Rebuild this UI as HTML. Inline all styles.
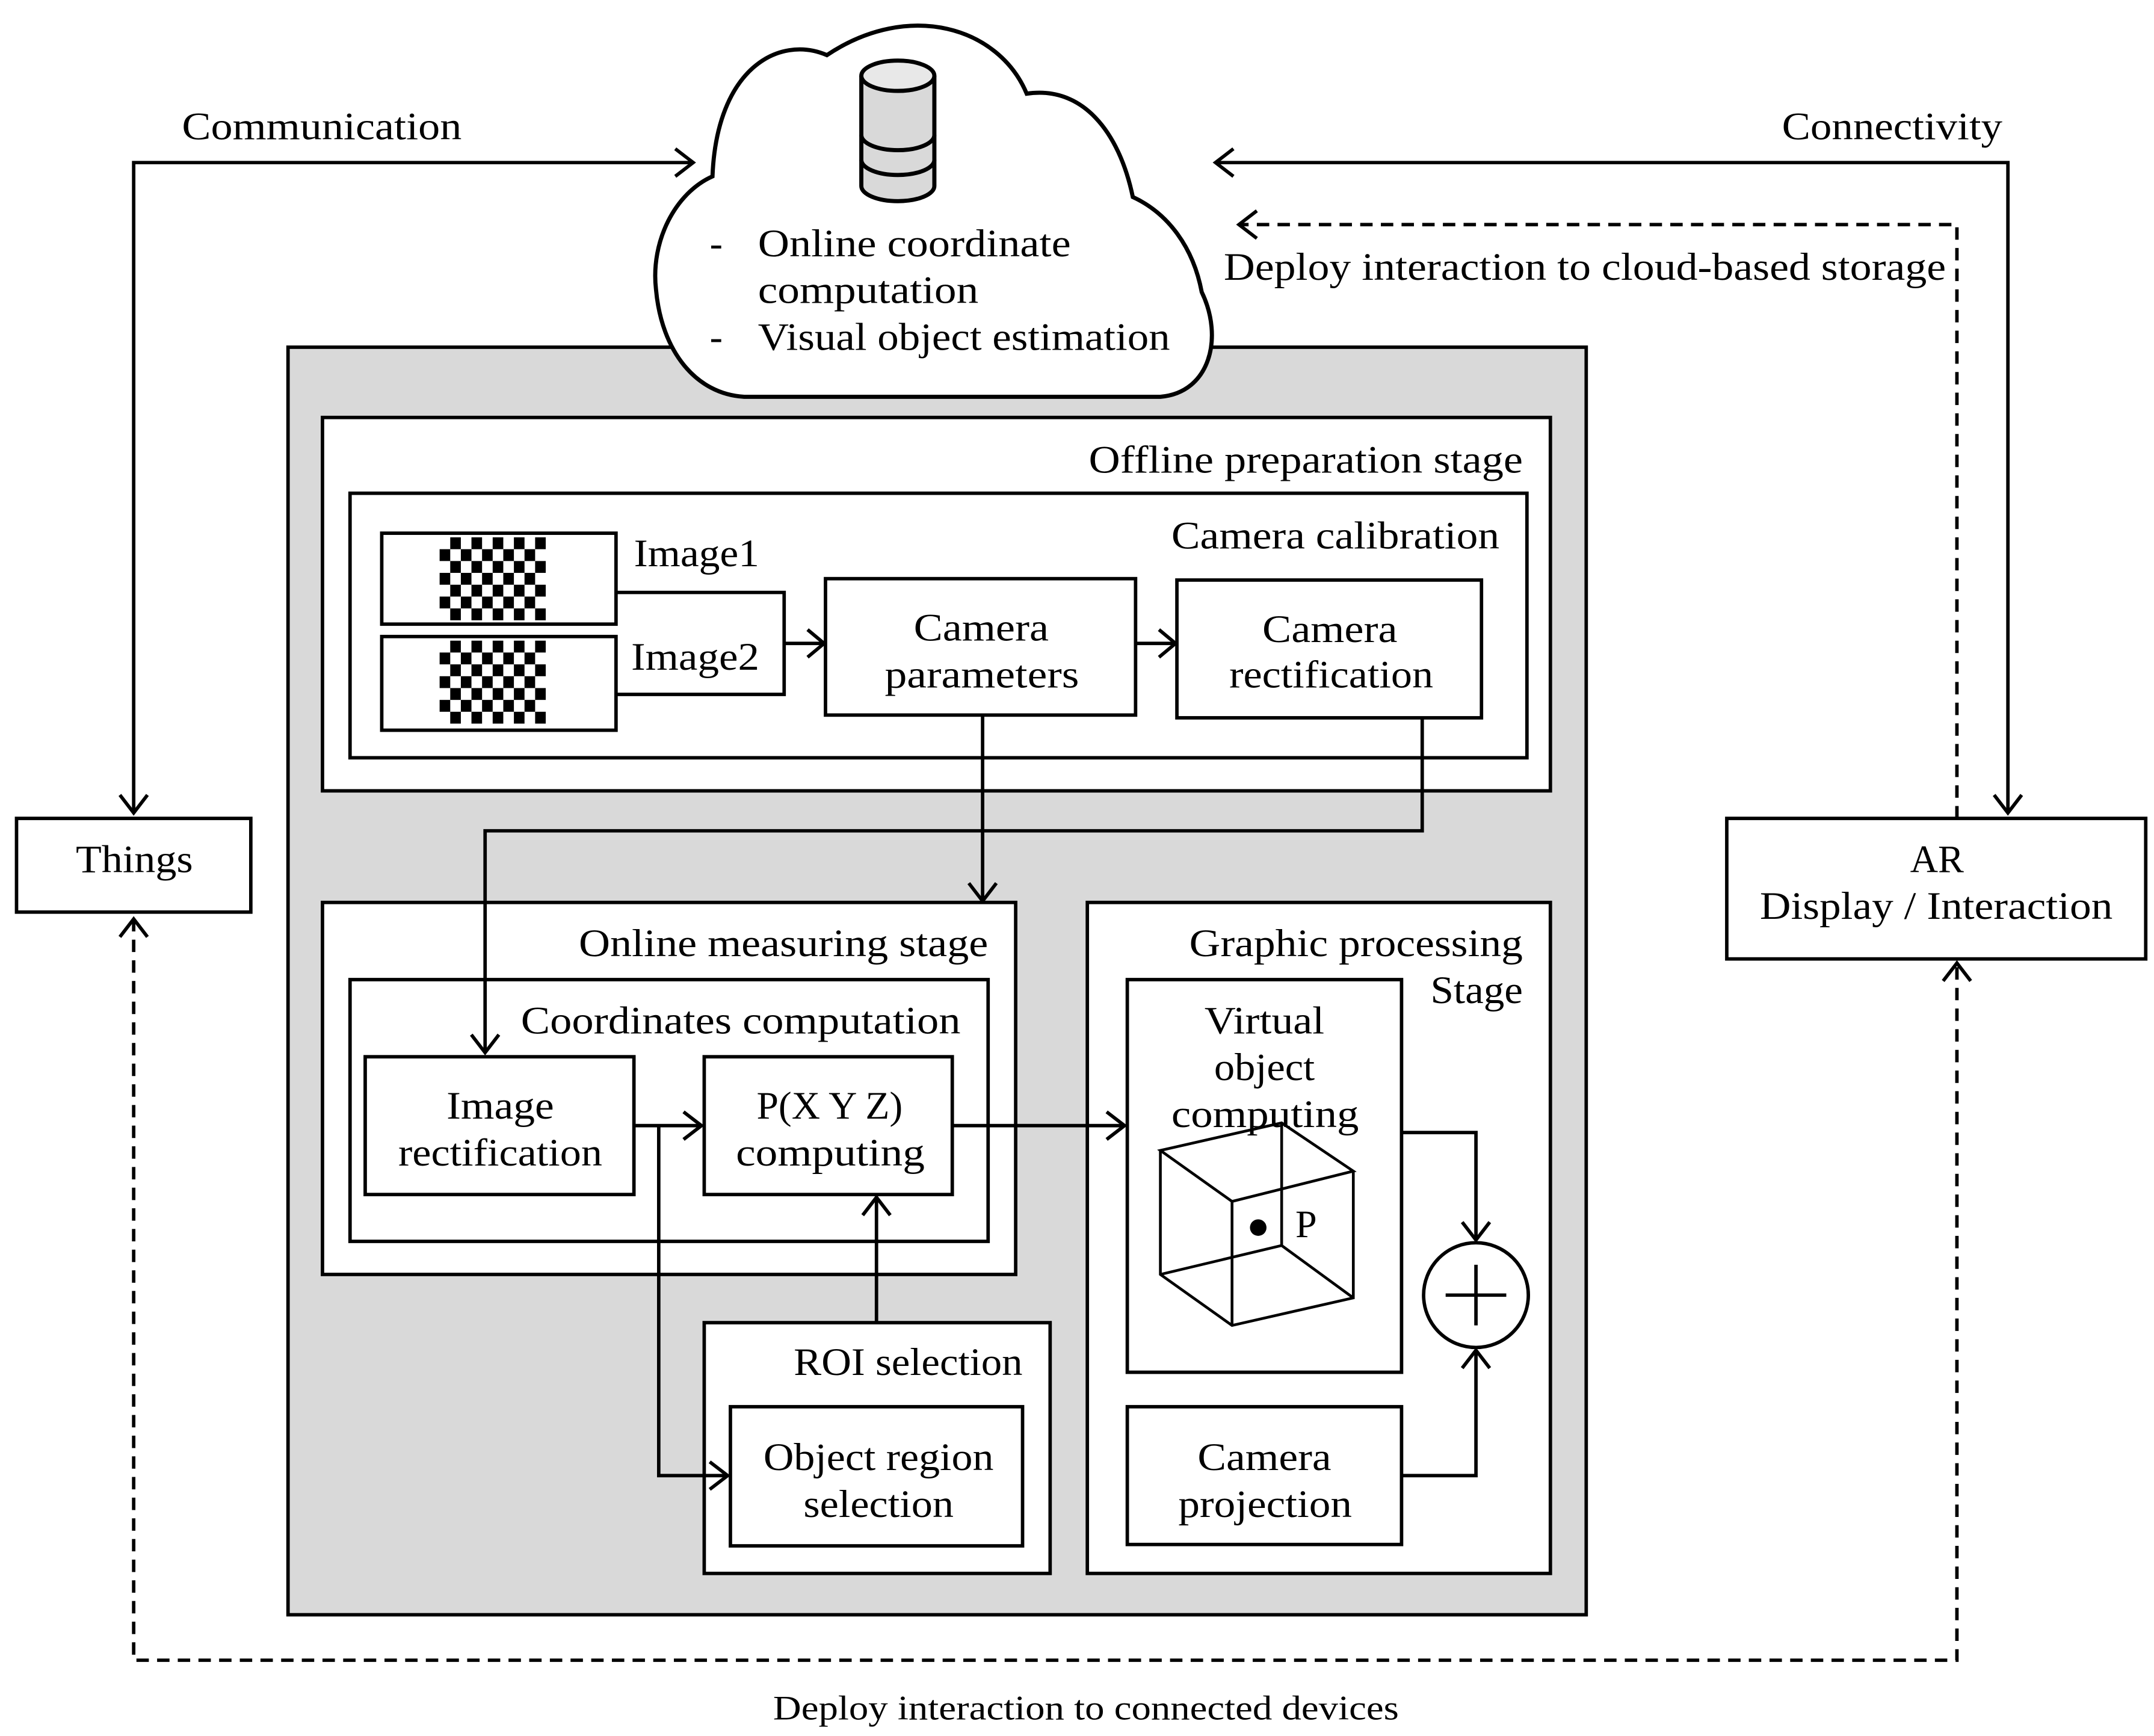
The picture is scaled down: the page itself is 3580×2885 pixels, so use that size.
<!DOCTYPE html>
<html><head><meta charset="utf-8"><style>html,body{margin:0;padding:0;background:#fff}svg{display:block}</style></head>
<body>
<svg xmlns="http://www.w3.org/2000/svg" width="3580" height="2885" viewBox="0 0 1563 1260" preserveAspectRatio="none" font-family="'Liberation Serif', serif" font-size="28">
<rect width="1563" height="1260" fill="#fff"/>
<g stroke="#000" stroke-width="2.5" fill="none">
<rect x="209" y="252" width="942" height="920" fill="#d9d9d9"/>
<!-- cloud -->
<path d="M517,128 C490,140 472,175 476,210 C480,255 505,286 540,288 L842,288 C878,285 888,245 872,212 C866,180 848,155 822,143 C812,95 785,62 745,68 C725,20 660,0 600,40 C565,25 520,50 517,128 Z" fill="#fff" stroke-width="3"/>
<!-- database -->
<path d="M625,55 L625,135 A26.5,11 0 0 0 678,135 L678,55" fill="#d9d9d9" stroke-width="3"/>
<ellipse cx="651.5" cy="55" rx="26.5" ry="11" fill="#e8e8e8" stroke-width="3"/>
<path d="M625,98 A26.5,11 0 0 0 678,98 M625,116 A26.5,11 0 0 0 678,116" stroke-width="3"/>
<!-- boxes -->
<rect x="234" y="303" width="891" height="271" fill="#fff"/>
<rect x="254" y="358" width="854" height="192" fill="#fff"/>
<rect x="277" y="387" width="170" height="66" fill="#fff"/>
<rect x="277" y="462" width="170" height="68" fill="#fff"/>
<rect x="599" y="420" width="225" height="99" fill="#fff"/>
<rect x="854" y="421" width="221" height="100" fill="#fff"/>
<rect x="234" y="655" width="503" height="270" fill="#fff"/>
<rect x="254" y="711" width="463" height="190" fill="#fff"/>
<rect x="265" y="767" width="195" height="100" fill="#fff"/>
<rect x="511" y="767" width="180" height="100" fill="#fff"/>
<rect x="511" y="960" width="251" height="182" fill="#fff"/>
<rect x="530" y="1021" width="212" height="101" fill="#fff"/>
<rect x="789" y="655" width="336" height="487" fill="#fff"/>
<rect x="818" y="711" width="199" height="285" fill="#fff"/>
<rect x="818" y="1021" width="199" height="100" fill="#fff"/>
<rect x="12" y="594" width="170" height="68" fill="#fff"/>
<rect x="1253" y="594" width="304" height="102" fill="#fff"/>
<!-- connectors -->
<polyline points="447,430 569,430 569,504 447,504"/>
<line x1="569" y1="467" x2="598" y2="467"/>
<polyline points="586,457 598,467 586,477"/>
<line x1="824" y1="467" x2="853" y2="467"/>
<polyline points="841,457 853,467 841,477"/>
<line x1="713" y1="519" x2="713" y2="654"/>
<polyline points="703,641 713,654 723,641"/>
<polyline points="1032,521 1032,603 352,603 352,764"/>
<polyline points="342,751 352,764 362,751"/>
<line x1="460" y1="817" x2="509" y2="817"/>
<polyline points="496,807 509,817 496,827"/>
<polyline points="478,817 478,1071 528,1071"/>
<polyline points="515,1061 528,1071 515,1081"/>
<line x1="636" y1="960" x2="636" y2="869"/>
<polyline points="626,882 636,869 646,882"/>
<line x1="691" y1="817" x2="816" y2="817"/>
<polyline points="803,807 816,817 803,827"/>
<polyline points="1017,822 1071,822 1071,900"/>
<polyline points="1061,887 1071,900 1081,887"/>
<polyline points="1017,1071 1071,1071 1071,980"/>
<polyline points="1061,993 1071,980 1081,993"/>
<circle cx="1071" cy="940" r="38" fill="#fff"/>
<line x1="1049" y1="940" x2="1093" y2="940"/>
<line x1="1071" y1="918" x2="1071" y2="962"/>
<!-- cube -->
<g stroke-width="2">
<polygon points="842,835 930,815 982,850 894,872"/>
<polyline points="842,835 842,925 894,962 982,942 982,850"/>
<line x1="894" y1="872" x2="894" y2="962"/>
<polyline points="930,815 930,904 842,925"/>
<line x1="930" y1="904" x2="982" y2="942"/>
</g>
<circle cx="913" cy="891" r="6" fill="#000" stroke="none"/>
<!-- outer links -->
<polyline points="97,590 97,118 503,118"/>
<polyline points="87,577 97,590 107,577"/>
<polyline points="490,108 503,118 490,128"/>
<polyline points="882,118 1457,118 1457,590"/>
<polyline points="895,108 882,118 895,128"/>
<polyline points="1447,577 1457,590 1467,577"/>
<g stroke-dasharray="9,6">
<polyline points="1420,594 1420,163 899,163"/>
<polyline points="97,667 97,1205 1420,1205 1420,699"/>
</g>
<polyline points="912,153 899,163 912,173"/>
<polyline points="87,680 97,667 107,680"/>
<polyline points="1410,712 1420,699 1430,712"/>
</g>
<!-- checkerboards -->
<g fill="#000">
<g id="cb">
<rect x="326.7" y="390" width="7.7" height="8.6"/><rect x="342.1" y="390" width="7.7" height="8.6"/><rect x="357.5" y="390" width="7.7" height="8.6"/><rect x="372.9" y="390" width="7.7" height="8.6"/><rect x="388.3" y="390" width="7.7" height="8.6"/>
<rect x="319" y="398.6" width="7.7" height="8.6"/><rect x="334.4" y="398.6" width="7.7" height="8.6"/><rect x="349.8" y="398.6" width="7.7" height="8.6"/><rect x="365.2" y="398.6" width="7.7" height="8.6"/><rect x="380.6" y="398.6" width="7.7" height="8.6"/>
<rect x="326.7" y="407.2" width="7.7" height="8.6"/><rect x="342.1" y="407.2" width="7.7" height="8.6"/><rect x="357.5" y="407.2" width="7.7" height="8.6"/><rect x="372.9" y="407.2" width="7.7" height="8.6"/><rect x="388.3" y="407.2" width="7.7" height="8.6"/>
<rect x="319" y="415.8" width="7.7" height="8.6"/><rect x="334.4" y="415.8" width="7.7" height="8.6"/><rect x="349.8" y="415.8" width="7.7" height="8.6"/><rect x="365.2" y="415.8" width="7.7" height="8.6"/><rect x="380.6" y="415.8" width="7.7" height="8.6"/>
<rect x="326.7" y="424.4" width="7.7" height="8.6"/><rect x="342.1" y="424.4" width="7.7" height="8.6"/><rect x="357.5" y="424.4" width="7.7" height="8.6"/><rect x="372.9" y="424.4" width="7.7" height="8.6"/><rect x="388.3" y="424.4" width="7.7" height="8.6"/>
<rect x="319" y="433" width="7.7" height="8.6"/><rect x="334.4" y="433" width="7.7" height="8.6"/><rect x="349.8" y="433" width="7.7" height="8.6"/><rect x="365.2" y="433" width="7.7" height="8.6"/><rect x="380.6" y="433" width="7.7" height="8.6"/>
<rect x="326.7" y="441.6" width="7.7" height="8.6"/><rect x="342.1" y="441.6" width="7.7" height="8.6"/><rect x="357.5" y="441.6" width="7.7" height="8.6"/><rect x="372.9" y="441.6" width="7.7" height="8.6"/><rect x="388.3" y="441.6" width="7.7" height="8.6"/>
</g>
<use href="#cb" y="75"/>
</g>
<!-- text -->
<g fill="#000" lengthAdjust="spacingAndGlyphs">
<text x="515" y="186">-</text>
<text x="550" y="186" textLength="227" lengthAdjust="spacingAndGlyphs">Online coordinate</text>
<text x="550" y="220" textLength="160" lengthAdjust="spacingAndGlyphs">computation</text>
<text x="515" y="254">-</text>
<text x="550" y="254" textLength="299" lengthAdjust="spacingAndGlyphs">Visual object estimation</text>
<text x="132" y="101" textLength="203" lengthAdjust="spacingAndGlyphs">Communication</text>
<text x="1293" y="101" textLength="160" lengthAdjust="spacingAndGlyphs">Connectivity</text>
<text x="888" y="203" textLength="524" lengthAdjust="spacingAndGlyphs">Deploy interaction to cloud-based storage</text>
<text x="790" y="343" textLength="315" lengthAdjust="spacingAndGlyphs">Offline preparation stage</text>
<text x="850" y="398" textLength="238" lengthAdjust="spacingAndGlyphs">Camera calibration</text>
<text x="460" y="411" textLength="91" lengthAdjust="spacingAndGlyphs">Image1</text>
<text x="458" y="486" textLength="93" lengthAdjust="spacingAndGlyphs">Image2</text>
<text x="663" y="465" textLength="98" lengthAdjust="spacingAndGlyphs">Camera</text>
<text x="642" y="499" textLength="141" lengthAdjust="spacingAndGlyphs">parameters</text>
<text x="916" y="466" textLength="98" lengthAdjust="spacingAndGlyphs">Camera</text>
<text x="892" y="499" textLength="148" lengthAdjust="spacingAndGlyphs">rectification</text>
<text x="324" y="812" textLength="78" lengthAdjust="spacingAndGlyphs">Image</text>
<text x="289" y="846" textLength="148" lengthAdjust="spacingAndGlyphs">rectification</text>
<text x="549" y="812" textLength="106" lengthAdjust="spacingAndGlyphs">P(X Y Z)</text>
<text x="534" y="846" textLength="137" lengthAdjust="spacingAndGlyphs">computing</text>
<text x="554" y="1067" textLength="167" lengthAdjust="spacingAndGlyphs">Object region</text>
<text x="583" y="1101" textLength="109" lengthAdjust="spacingAndGlyphs">selection</text>
<text x="874" y="750" textLength="87" lengthAdjust="spacingAndGlyphs">Virtual</text>
<text x="881" y="784" textLength="73" lengthAdjust="spacingAndGlyphs">object</text>
<text x="850" y="818" textLength="136" lengthAdjust="spacingAndGlyphs">computing</text>
<text x="869" y="1067" textLength="97" lengthAdjust="spacingAndGlyphs">Camera</text>
<text x="855" y="1101" textLength="126" lengthAdjust="spacingAndGlyphs">projection</text>
<text x="55" y="633" textLength="85" lengthAdjust="spacingAndGlyphs">Things</text>
<text x="1386" y="633" textLength="39" lengthAdjust="spacingAndGlyphs">AR</text>
<text x="1277" y="667" textLength="256" lengthAdjust="spacingAndGlyphs">Display / Interaction</text>
<text x="561" y="1248" font-size="25" textLength="454" lengthAdjust="spacingAndGlyphs">Deploy interaction to connected devices</text>
<text x="420" y="694" textLength="297" lengthAdjust="spacingAndGlyphs">Online measuring stage</text>
<text x="378" y="750" textLength="319" lengthAdjust="spacingAndGlyphs">Coordinates computation</text>
<text x="576" y="998" textLength="166" lengthAdjust="spacingAndGlyphs">ROI selection</text>
<text x="863" y="694" textLength="242" lengthAdjust="spacingAndGlyphs">Graphic processing</text>
<text x="1038" y="728" textLength="67" lengthAdjust="spacingAndGlyphs">Stage</text>
<text x="940" y="898">P</text>
</g>
</svg>
</body></html>
